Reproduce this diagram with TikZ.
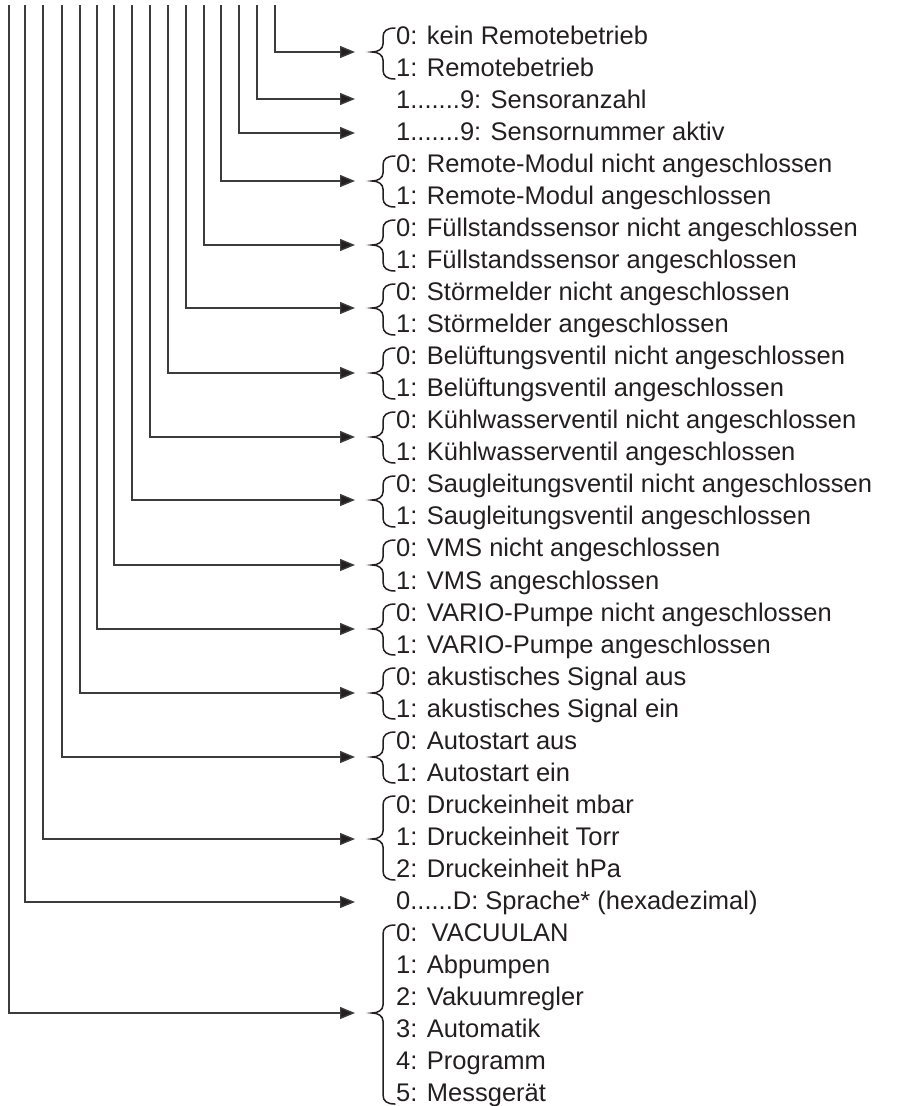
\documentclass[tikz,border=0pt]{standalone}
\usepackage{fontspec}
\setmainfont{Liberation Sans}
\usetikzlibrary{arrows.meta}
\definecolor{lc}{RGB}{60,60,60}
\definecolor{tc}{RGB}{35,31,32}
\newcommand\grpbrace[3]{%
  \draw[brc] (395,#1) .. controls (387,#1) and (383,{#1+3}) .. (383,{#1+9})
    -- (383,{#2-8}) .. controls (383,{#2-3}) and (378,#2) .. (372,#2)
    .. controls (378,#2) and (383,{#2+3}) .. (383,{#2+8})
    -- (383,{#3-9}) .. controls (383,{#3-3}) and (387,#3) .. (395,#3);}
\begin{document}
\begin{tikzpicture}[x=1pt,y=-1pt,
  lbl/.style={anchor=base west,inner sep=0pt,text=tc,font=\fontsize{25.5}{32}\selectfont},
  conn/.style={draw=lc,line width=1.4pt,-{Triangle[length=15pt,width=12pt,fill=tc]}},
  brc/.style={draw=tc,line width=1.5pt,line cap=round}]
\useasboundingbox (0,0) rectangle (905,1106);
% labels
\node[lbl] (l1) at (396,44.5) {0: kein Remotebetrieb};
\node[lbl] (l2) at (396,76.53) {1: Remotebetrieb};
\node[lbl] (l3) at (396,108.56) {1.......9: Sensoranzahl};
\node[lbl] (l4) at (396,140.59) {1.......9: Sensornummer aktiv};
\node[lbl] (l5) at (396,172.62) {0: Remote-Modul nicht angeschlossen};
\node[lbl] (l6) at (396,204.65) {1: Remote-Modul angeschlossen};
\node[lbl] (l7) at (396,236.68) {0: Füllstandssensor nicht angeschlossen};
\node[lbl] (l8) at (396,268.71) {1: Füllstandssensor angeschlossen};
\node[lbl] (l9) at (396,300.74) {0: Störmelder nicht angeschlossen};
\node[lbl] (l10) at (396,332.77) {1: Störmelder angeschlossen};
\node[lbl] (l11) at (396,364.8) {0: Belüftungsventil nicht angeschlossen};
\node[lbl] (l12) at (396,396.83) {1: Belüftungsventil angeschlossen};
\node[lbl] (l13) at (396,428.86) {0: Kühlwasserventil nicht angeschlossen};
\node[lbl] (l14) at (396,460.89) {1: Kühlwasserventil angeschlossen};
\node[lbl] (l15) at (396,492.92) {0: Saugleitungsventil nicht angeschlossen};
\node[lbl] (l16) at (396,524.95) {1: Saugleitungsventil angeschlossen};
\node[lbl] (l17) at (396,556.98) {0: VMS nicht angeschlossen};
\node[lbl] (l18) at (396,589.01) {1: VMS angeschlossen};
\node[lbl] (l19) at (396,621.04) {0: VARIO-Pumpe nicht angeschlossen};
\node[lbl] (l20) at (396,653.07) {1: VARIO-Pumpe angeschlossen};
\node[lbl] (l21) at (396,685.1) {0: akustisches Signal aus};
\node[lbl] (l22) at (396,717.13) {1: akustisches Signal ein};
\node[lbl] (l23) at (396,749.16) {0: Autostart aus};
\node[lbl] (l24) at (396,781.19) {1: Autostart ein};
\node[lbl] (l25) at (396,813.22) {0: Druckeinheit mbar};
\node[lbl] (l26) at (396,845.25) {1: Druckeinheit Torr};
\node[lbl] (l27) at (396,877.28) {2: Druckeinheit hPa};
\node[lbl] (l28) at (396,909.31) {0......D: Sprache* (hexadezimal)};
\node[lbl] (l29) at (396,941.34) {0:\ \ VACUULAN};
\node[lbl] (l30) at (396,973.37) {1: Abpumpen};
\node[lbl] (l31) at (396,1005.4) {2: Vakuumregler};
\node[lbl] (l32) at (396,1037.43) {3: Automatik};
\node[lbl] (l33) at (396,1069.46) {4: Programm};
\node[lbl] (l34) at (396,1101.49) {5: Messgerät};
% braces
\grpbrace{28}{52}{79}
\grpbrace{156}{181}{207}
\grpbrace{220}{245}{271}
\grpbrace{284}{308}{335}
\grpbrace{348}{373}{399}
\grpbrace{412}{437}{463}
\grpbrace{476}{500}{527}
\grpbrace{540}{565}{591}
\grpbrace{604}{629}{655}
\grpbrace{668}{693}{719}
\grpbrace{732}{757}{783}
\grpbrace{796}{839}{880}
\grpbrace{925}{1013}{1104}
% connector start and end points
\foreach \i/\x/\y in {1/275/52,2/257/99,3/239/133,4/221/181,5/204/245,6/186/308,
  7/168/373,8/150/437,9/132/500,10/114/565,11/97/629,12/80/693,13/62/757,
  14/43/839,15/25/902,16/9/1013}{
  \coordinate (v\i) at (\x,5);
  \coordinate (e\i) at (355,\y);
}
\foreach \i in {1,...,16}{
  \draw[conn] (v\i) |- (e\i);
}
\end{tikzpicture}
\end{document}
